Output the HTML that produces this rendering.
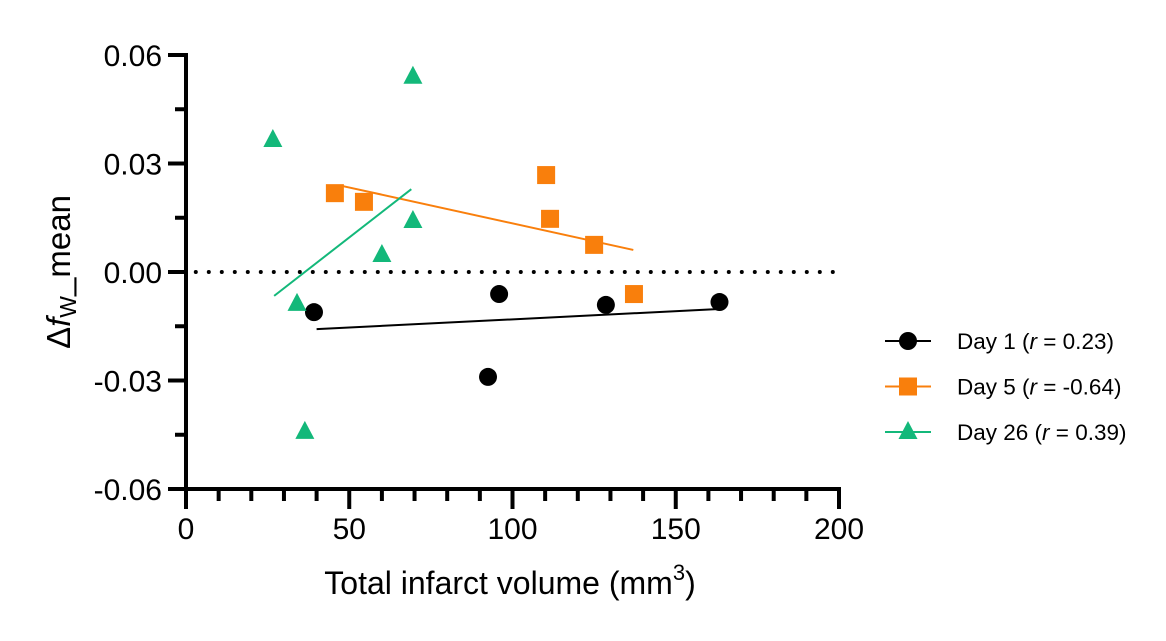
<!DOCTYPE html>
<html><head><meta charset="utf-8"><style>
body{margin:0;background:#fff;width:1166px;height:636px;overflow:hidden}
text{font-family:"Liberation Sans",Arial,sans-serif}
</style></head><body>
<svg id="chart" width="1166" height="636" xmlns="http://www.w3.org/2000/svg">
<g id="axes"></g><g id="plot"></g><g id="legend"></g>
</svg>
<script>
const seriesNames = ["Day 1 (r = 0.23)","Day 5 (r = -0.64)","Day 26 (r = 0.39)"];
const day1X = [39.2, 95.9, 92.5, 128.6, 163.4];
const day1Y = [-0.0111, -0.0061, -0.0290, -0.0091, -0.0083];
const day5X = [45.6, 54.5, 110.3, 111.5, 125.0, 137.2];
const day5Y = [0.0218, 0.0194, 0.0268, 0.0147, 0.0075, -0.0061];
const day26X = [26.6, 34.0, 36.4, 60.0, 69.5, 69.5];
const day26Y = [0.0365, -0.0088, -0.0442, 0.0047, 0.0141, 0.0540];
const fit1 = [[40, -0.0158], [164, -0.0102]];
const fit5 = [[47.8, 0.0238], [137, 0.0061]];
const fit26 = [[27, -0.0066], [69, 0.0229]];
const xTicks = [0, 50, 100, 150, 200];
const yTicks = [0.06, 0.03, 0.00, -0.03, -0.06];

const NS = "http://www.w3.org/2000/svg";
const X0 = 186, X1 = 839, Y0 = 489, Y1 = 55;
const sx = v => X0 + (v - 0) / 200 * (X1 - X0);
const sy = v => Y0 - (v + 0.06) / 0.12 * (Y0 - Y1);
function mk(tag, attrs, parent) { const e = document.createElementNS(NS, tag); for (const k in attrs) e.setAttribute(k, attrs[k]); parent.appendChild(e); return e; }
const axes = document.getElementById('axes'), plot = document.getElementById('plot'), legend = document.getElementById('legend');

let yl = mk('line', {x1: X0, y1: Y1 - 2, x2: X0, y2: Y0 + 2, stroke: '#000', 'stroke-width': 4}, axes);


for (let i = 0; i <= 8; i++) {
  const v = -0.06 + i * 0.015, major = i % 2 === 0;
  mk('line', {x1: X0 - (major ? 18 : 11), y1: sy(v), x2: X0, y2: sy(v), stroke: '#000', 'stroke-width': 4}, axes);
}
yTicks.forEach(v => {
  const t = mk('text', {x: X0 - 24, y: sy(v) + 11, 'text-anchor': 'end', 'font-size': 30}, axes);
  t.textContent = v.toFixed(2);
  
  
});
let xl = mk('line', {x1: X0 - 2, y1: Y0, x2: X1 + 2, y2: Y0, stroke: '#000', 'stroke-width': 4}, axes);


for (let i = 0; i <= 20; i++) {
  const v = i * 10, major = i % 5 === 0;
  mk('line', {x1: sx(v), y1: Y0, x2: sx(v), y2: Y0 + (major ? 20 : 12), stroke: '#000', 'stroke-width': 4}, axes);
}
xTicks.forEach(v => {
  const t = mk('text', {x: sx(v), y: Y0 + 50, 'text-anchor': 'middle', 'font-size': 30}, axes);
  t.textContent = v;
  
  
});
let xt = mk('text', {x: 510, y: 594, 'text-anchor': 'middle', 'font-size': 32}, axes);
xt.innerHTML = 'Total infarct volume (mm<tspan dy="-14" font-size="22">3</tspan><tspan dy="14">)</tspan>';


let yt = mk('text', {x: 0, y: 0, 'text-anchor': 'middle', 'font-size': 33, transform: 'translate(70,272) rotate(-90)'}, axes);
yt.innerHTML = 'Δ<tspan font-style="italic">f</tspan><tspan dy="6" font-size="23">W</tspan><tspan dy="-6">_mean</tspan>';



let zl = mk('line', {x1: sx(3), y1: sy(0), x2: sx(200), y2: sy(0), stroke: '#000', 'stroke-width': 4, 'stroke-dasharray': '0 13', 'stroke-linecap': 'round'}, plot);



const colors = ['#000000', '#f97f0c', '#13b87a'];
const fits = [fit1, fit5, fit26];
const xs = [day1X, day5X, day26X], ys = [day1Y, day5Y, day26Y];
function marker(k, cx, cy, parent, s) {
  if (k === 0) return mk('circle', {cx, cy, r: 9 * s, fill: colors[0]}, parent);
  if (k === 1) return mk('rect', {x: cx - 9 * s, y: cy - 9 * s, width: 18 * s, height: 18 * s, fill: colors[1]}, parent);
  return mk('polygon', {points: `${cx},${cy - 11 * s} ${cx + 9.5 * s},${cy + 7 * s} ${cx - 9.5 * s},${cy + 7 * s}`, fill: colors[2]}, parent);
}
fits.forEach((f, k) => {
  const l = mk('line', {x1: sx(f[0][0]), y1: sy(f[0][1]), x2: sx(f[1][0]), y2: sy(f[1][1]), stroke: colors[k], 'stroke-width': 2}, plot);
  
  
});
xs.forEach((arr, k) => {
  arr.forEach((xv, i) => {
    const m = marker(k, sx(xv), sy(ys[k][i]), plot, 1);
    
    
  });
});
seriesNames.forEach((name, k) => {
  const y = 341 + k * 45.5;
  const g = mk('g', {}, legend);
  
  
  mk('line', {x1: 885, y1: y, x2: 931, y2: y, stroke: colors[k], 'stroke-width': 2}, g);
  marker(k, 908, y, g, 1);
  const t = mk('text', {x: 957, y: y + 8, 'font-size': 22.5}, g);
  const parts = name.split('r');
  t.innerHTML = parts[0] + '<tspan font-style="italic">r</tspan>' + parts[1];
});
</script>
</body></html>
